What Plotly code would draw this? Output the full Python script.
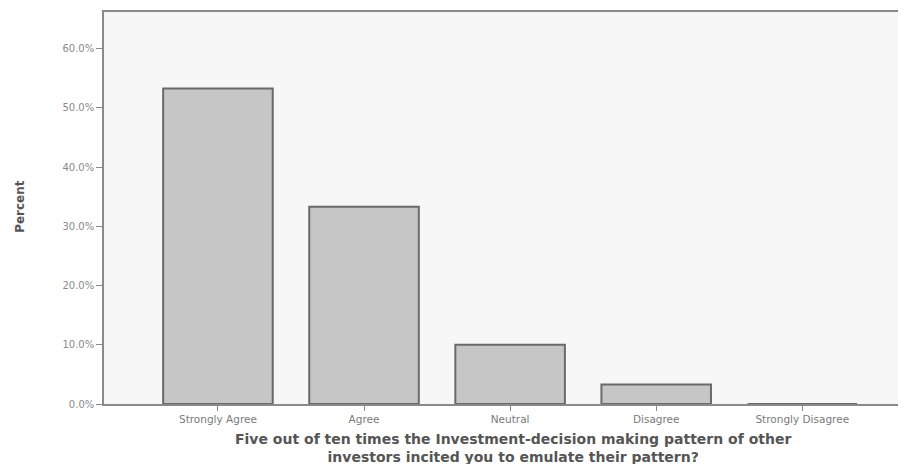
import plotly.graph_objects as go

categories = ["Strongly Agree", "Agree", "Neutral", "Disagree", "Strongly Disagree"]
percent = [53.3, 33.3, 10.0, 3.3, 0.0]
y_ticks = [0, 10, 20, 30, 40, 50, 60]
y_tick_labels = ["0.0%", "10.0%", "20.0%", "30.0%", "40.0%", "50.0%", "60.0%"]
x_title_lines = [
    "Five out of ten times the Investment-decision making pattern of other",
    "investors incited you to emulate their pattern?",
]
y_title = "Percent"

fig = go.Figure()
fig.add_trace(go.Bar(
    x=list(range(len(categories))),
    y=percent,
    width=0.75,
    marker=dict(color="#c6c6c6", line=dict(color="#6a6a6a", width=2)),
))

fig.update_layout(
    width=898, height=456,
    margin=dict(l=96, r=0, t=4, b=60),
    paper_bgcolor="white",
    plot_bgcolor="#f7f7f7",
    showlegend=False,
    font=dict(family="DejaVu Sans", color="#808080"),
)
fig.update_xaxes(
    range=[-0.78, 4.71],
    tickmode="array",
    tickvals=list(range(len(categories))),
    ticktext=categories,
    tickfont=dict(family="DejaVu Sans", size=10.5, color="#7a7a7a"),
    ticks="outside", ticklen=5, tickcolor="#888",
    showline=True, linecolor="#8a8a8a", linewidth=1.5, mirror=True,
    showgrid=False, zeroline=False,
)
fig.update_yaxes(
    range=[0, 66.2],
    tickmode="array",
    tickvals=y_ticks,
    ticktext=y_tick_labels,
    tickfont=dict(family="DejaVu Sans", size=10, color="#8a8a8a"),
    ticks="outside", ticklen=6, tickcolor="#888",
    showline=True, linecolor="#8a8a8a", linewidth=1.5,
    showgrid=False, zeroline=False,
)

fig.add_annotation(text="<br>".join(x_title_lines), xref="paper", yref="paper",
                   x=0.51, y=-0.113, xanchor="center", yanchor="middle",
                   showarrow=False,
                   font=dict(family="DejaVu Sans", size=14, color="#555", weight="bold"))
fig.add_annotation(text=y_title, xref="paper", yref="paper", x=-0.1047, y=0.503,
                   xanchor="center", yanchor="middle", textangle=-90, showarrow=False,
                   font=dict(family="DejaVu Sans", size=12, color="#555", weight="bold"))

fig.write_html("out.html")
